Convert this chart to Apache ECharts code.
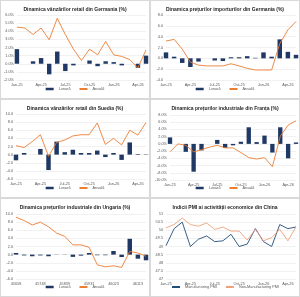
<!DOCTYPE html>
<html>
<head>
<meta charset="utf-8">
<script src="https://cdn.jsdelivr.net/npm/echarts@6/dist/echarts.min.js"></script>
<style>
  body { margin: 0; background: #fff; }
  .p { position: absolute; width: 150px; height: 99px; box-sizing: border-box; border: 1px solid #d9d9d9; }
</style>
</head>
<body>
<div id="g1" class="p" style="left:0;top:0"></div>
<div id="g2" class="p" style="left:150px;top:0"></div>
<div id="g3" class="p" style="left:0;top:99px"></div>
<div id="g4" class="p" style="left:150px;top:99px"></div>
<div id="g5" class="p" style="left:0;top:198px"></div>
<div id="g6" class="p" style="left:150px;top:198px"></div>
<script>
// luni Jan-25 .. May-26
const luni = ['Jan-25', 'Feb-25', 'Mar-25', 'Apr-25', 'May-25', 'Jun-25', 'Jul-25', 'Aug-25', 'Sep-25',
    'Oct-25', 'Nov-25', 'Dec-25', 'Jan-26', 'Feb-26', 'Mar-26', 'Apr-26', 'May-26'];
// graficul Ungariei are datele ca numere seriale Excel
const luniSerial = ['45658', '45689', '45717', '45748', '45778', '45809', '45839', '45870', '45901',
    '45931', '45962', '45992', '46023', '46054', '46082', '46113', '46143'];

const deRetailLunara = [1.8, 0, 0.3, 0.7, -1.3, 1.5, -0.9, -0.2, 0, 0.4, -0.3, 0.3, 0.2, -0.2, 0, -0.5, 1.0];
const deRetailAnuala = [4.5, 4.4, 3.6, 4.4, 2.95, 5.6, 3.6, 1.8, 0.4, 1.8, 1.1, 2.75, 1.1, 0.9, 0.5, -0.5, 1.7];

const deImportLunara = [1.1, 0.3, -0.85, -1.6, -0.6, 0, -0.4, -0.5, 0.2, 0.2, 0.4, 0.1, 1.1, 0.3, 3.5, 1.2, 0.65];
const deImportAnuala = [3.2, 3.5, 1.7, -0.7, -1.25, -1.4, -1.4, -1.4, -1.0, -1.4, -1.85, -2.15, -2.15, -2.15, 2.7, 5.25, 6.8];

const seRetailLunara = [-1.4, 0.4, 0, 1.4, -3.8, 3.2, 0.6, 1.2, 0.4, 0.4, 1.0, -0.6, 0.4, -1.3, 3.0, 0.15, -0.1];
const seRetailAnuala = [2.2, 1.75, 3.2, 4.9, -0.4, 3.0, 3.6, 4.6, 4.9, 4.9, 7.8, 2.5, 4.0, 2.4, 6.0, 4.8, 7.9];

const frPpiLunara = [1.8, 0, -2.2, -7.7, -1.8, 0, 1.1, -1.1, -0.4, 0.6, 4.6, 0.5, 2.3, -2.4, 4.6, -4.0, 0.4];
const frPpiAnuala = [-2.2, 0, -0.4, -2.2, -1.6, -0.9, -0.4, -1.1, -1.1, -2.4, -3.8, -4.2, -3.8, -6.3, 2.1, 5.2, 6.4];

const huPpiLunara = [0.4, -0.2, -0.4, -0.2, -0.4, 0.05, 0.05, -0.55, -0.25, 0.4, -0.15, -0.15, 0.9, -0.6, 3.9, -1.0, -1.4];
const huPpiAnuala = [9.2, 8.4, 7.3, 8.0, 6.85, 5.3, 4.5, 2.4, 2.4, 1.8, -2.5, -3.0, -2.75, -3.15, 0.8, 0.4, -0.4];

const cnPmiManuf = [49.05, 50.1, 50.5, 49.0, 49.45, 49.65, 49.3, 49.35, 49.75, 49.0, 49.15, 50.1, 49.3, 49.0, 50.35, 50.1, 50.2];
const cnPmiNonManuf = [50.15, 50.35, 50.75, 50.35, 50.25, 50.45, 50.05, 50.2, 49.95, 49.95, 49.4, 50.05, 49.35, 49.55, 50.05, 49.35, 50.2];

const FONT = 'Liberation Sans';
const BAR = '#203864';
const ORANGE = '#ed7d31';

function desenharGrafico(id, titulo, categorii, seriiDef, y, left, top) {
    const el = document.getElementById(id);
    const chart = echarts.init(el);
    const series = seriiDef.map((s) => s.tip === 'bar' ? {
        name: s.nume, type: 'bar', data: s.date, barWidth: '55%',
        itemStyle: { color: s.culoare }
    } : {
        name: s.nume, type: 'line', data: s.date, symbol: 'none',
        lineStyle: { color: s.culoare, width: 0.9 }, itemStyle: { color: s.culoare }
    });
    chart.setOption({
        animation: false,
        title: {
            text: titulo, left: 'center', top: 1.5,
            textStyle: { fontFamily: FONT, fontSize: 5, fontWeight: 'bold', color: '#262626' }
        },
        grid: { left: left, right: 3, top: top, bottom: 98 - top - 66 },
        legend: {
            bottom: 2, itemWidth: 8, itemHeight: 2.5, itemGap: 8,
            textStyle: { fontFamily: FONT, fontSize: 3.8, color: '#595959' },
            data: seriiDef.map((s) => ({ name: s.nume, icon: s.tip === 'bar' ? 'rect' : undefined }))
        },
        xAxis: {
            type: 'category', data: categorii, boundaryGap: false,
            axisLine: { show: false }, axisTick: { show: false },
            axisLabel: { interval: 2, fontFamily: FONT, fontSize: 3.8, color: '#595959', margin: 3 }
        },
        yAxis: {
            type: 'value', min: y.min, max: y.max, interval: y.step,
            axisLabel: { formatter: y.fmt, fontFamily: FONT, fontSize: 3.8, color: '#595959', margin: 3 },
            splitLine: { lineStyle: { color: '#e3e3e3', width: 0.5 } }
        },
        series: series
    });
}

const fmtPct = (v) => v.toFixed(1) + '%';
const fmt1 = (v) => v.toFixed(1);
const fmtGen = (v) => String(v);

desenharGrafico('g1', 'Dinamica vânzărilor retail din Germania (%)', luni, [
    { nume: 'Lunară', tip: 'bar', date: deRetailLunara, culoare: BAR },
    { nume: 'Anuală', tip: 'line', date: deRetailAnuala, culoare: ORANGE }
], { min: -2, max: 6, step: 1, fmt: fmtPct }, 15, 14);

desenharGrafico('g2', 'Dinamica prețurilor importurilor din Germania (%)', luni, [
    { nume: 'Lunară', tip: 'bar', date: deImportLunara, culoare: BAR },
    { nume: 'Anuală', tip: 'line', date: deImportAnuala, culoare: ORANGE }
], { min: -4, max: 8, step: 2, fmt: fmt1 }, 15, 14);

desenharGrafico('g3', 'Dinamica vânzărilor retail din Suedia (%)', luni, [
    { nume: 'Lunară', tip: 'bar', date: seRetailLunara, culoare: BAR },
    { nume: 'Anuală', tip: 'line', date: seRetailAnuala, culoare: ORANGE }
], { min: -6, max: 10, step: 2, fmt: fmt1 }, 15, 14);

desenharGrafico('g4', 'Dinamica prețurilor industriale din Franța (%)', luni, [
    { nume: 'Lunară', tip: 'bar', date: frPpiLunara, culoare: BAR },
    { nume: 'Anuală', tip: 'line', date: frPpiAnuala, culoare: ORANGE }
], { min: -10, max: 8, step: 2, fmt: fmtPct }, 19, 15);

desenharGrafico('g5', 'Dinamica prețurilor industriale din Ungaria (%)', luniSerial, [
    { nume: 'Lunară', tip: 'bar', date: huPpiLunara, culoare: BAR },
    { nume: 'Anuală', tip: 'line', date: huPpiAnuala, culoare: ORANGE }
], { min: -6, max: 10, step: 2, fmt: fmt1 }, 15, 15);

desenharGrafico('g6', 'Indicii PMI ai activității economice din China', luni, [
    { nume: 'Manufacturing PMI', tip: 'line', date: cnPmiManuf, culoare: '#1f4e79' },
    { nume: 'Non-Manufacturing PMI', tip: 'line', date: cnPmiNonManuf, culoare: '#f0a07a' }
], { min: 47, max: 51, step: 0.5, fmt: fmtGen }, 15, 15);
</script>
</body>
</html>
